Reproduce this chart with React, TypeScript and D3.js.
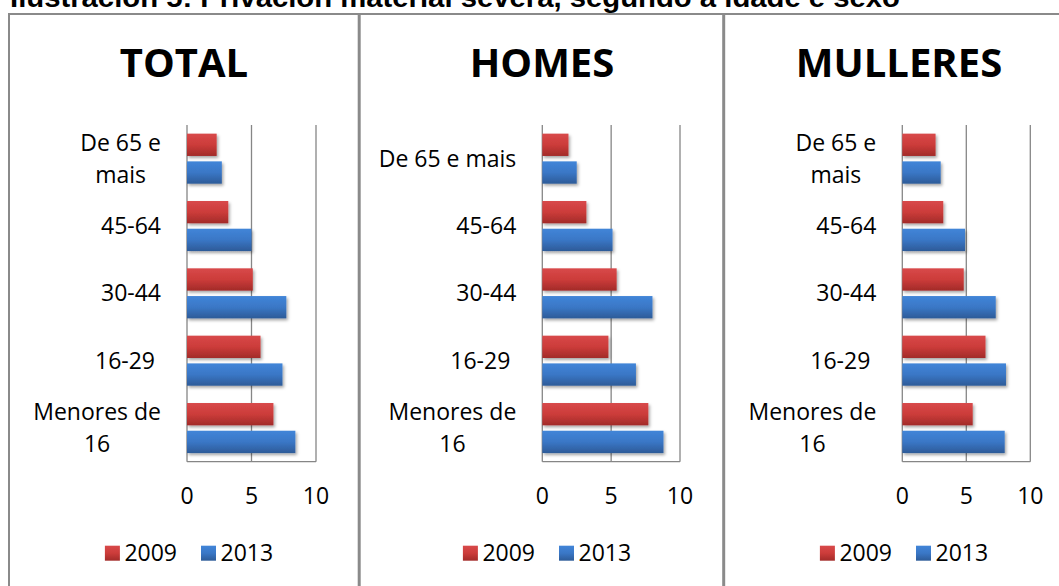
import * as d3 from "d3";
import { useEffect, useRef } from "react";

const chartTitle = "Ilustración 5: Privación material severa, segundo a idade e sexo";
const panelTitles = ["TOTAL", "HOMES", "MULLERES"];
const categories = ["De 65 e mais", "45-64", "30-44", "16-29 ", "Menores de 16"];
const seriesNames = ["2009", "2013"];
const xTicks = [0, 5, 10];

const total2009 = [2.3, 3.2, 5.1, 5.7, 6.7];
const total2013 = [2.7, 5.0, 7.7, 7.4, 8.4];
const homes2009 = [1.9, 3.2, 5.4, 4.8, 7.7];
const homes2013 = [2.5, 5.1, 8.0, 6.8, 8.8];
const mulleres2009 = [2.6, 3.2, 4.8, 6.5, 5.5];
const mulleres2013 = [3.0, 4.9, 7.3, 8.1, 8.0];

const width = 1059;
const height = 586;
const FONT = "'Open Sans', sans-serif";
const GRID = "#868686";

// layout of the three boxes (pixels)
const layout = [
  { left: 9, right: 359, x0: 187, x10: 316, wrap: 132 },
  { left: 361, right: 723, x0: 542.3, x10: 680, wrap: 150 },
  { left: 724, right: 1074, x0: 902.3, x10: 1030.3, wrap: 132 },
];
const plotTop = 125;
const plotBottom = 461.7;

function drawChart(container: HTMLElement) {
  const svg = d3.select(container)
    .append("svg")
    .attr("width", width)
    .attr("height", height)
    .attr("viewBox", [0, 0, width, height].join(" "))
    .style("display", "block")
    .style("font-family", FONT);

  const defs = svg.append("defs");
  const grad = (id: string, stops: string[]) => {
    const g = defs.append("linearGradient").attr("id", id)
      .attr("x1", 0).attr("y1", 0).attr("x2", 0).attr("y2", 1);
    stops.forEach((c, i) => g.append("stop")
      .attr("offset", `${(i / (stops.length - 1)) * 100}%`).attr("stop-color", c));
  };
  grad("g2009", ["#d8494a", "#cc3c3a", "#a22b29"]);
  grad("g2013", ["#4185d8", "#3a77c6", "#2d5b98"]);
  const f = defs.append("filter").attr("id", "shadow")
    .attr("x", "-10%").attr("y", "-20%").attr("width", "130%").attr("height", "160%");
  f.append("feDropShadow").attr("dx", 1.5).attr("dy", 2).attr("stdDeviation", 1.5)
    .attr("flood-color", "#000").attr("flood-opacity", 0.35);

  svg.append("rect").attr("width", width).attr("height", height).attr("fill", "#fff");

  // main title (clipped at top in the source)
  svg.append("text")
    .attr("x", 10).attr("y", 7)
    .attr("font-family", "'Liberation Sans', Arial, sans-serif")
    .attr("font-weight", "bold").attr("font-size", 28)
    .attr("textLength", 890).attr("lengthAdjust", "spacingAndGlyphs")
    .text(chartTitle);

  // frames
  svg.append("line").attr("x1", 8).attr("x2", width).attr("y1", 14).attr("y2", 14)
    .attr("stroke", "#8a8a8a").attr("stroke-width", 2);
  [[9, 2], [359.2, 3], [723.7, 3]].forEach(([x, w]) => {
    svg.append("line").attr("x1", x).attr("x2", x).attr("y1", 13).attr("y2", height)
      .attr("stroke", "#8a8a8a").attr("stroke-width", w);
  });

  const measurer = svg.append("text").attr("font-size", 23).style("white-space", "pre");
  const measure = (s: string, size = 23) => {
    measurer.attr("font-size", size).text(s);
    return (measurer.node() as SVGTextElement).getComputedTextLength();
  };

  const wrapLines = (label: string, maxW: number) => {
    if (measure(label) <= maxW) return [label];
    const words = label.trim().split(" ");
    const lines: string[] = [];
    let cur = "";
    words.forEach(w => {
      const next = cur ? cur + " " + w : w;
      if (cur && measure(next) > maxW) {
        lines.push(cur);
        cur = w;
      } else cur = next;
    });
    if (cur) lines.push(cur);
    return lines;
  };

  const panels = [
    { title: panelTitles[0], v2009: total2009, v2013: total2013 },
    { title: panelTitles[1], v2009: homes2009, v2013: homes2013 },
    { title: panelTitles[2], v2009: mulleres2009, v2013: mulleres2013 },
  ];

  panels.forEach((p, pi) => {
    const L = layout[pi];
    const g = svg.append("g");
    const cx = (L.left + L.right) / 2;

    g.append("text")
      .attr("x", cx).attr("y", 77)
      .attr("text-anchor", "middle")
      .attr("font-weight", "bold").attr("font-size", 40)
      .text(p.title);

    const x = d3.scaleLinear([0, 10], [L.x0, L.x10]);
    const y = d3.scaleBand(categories, [plotTop, plotBottom])
      .paddingInner(0.257).paddingOuter(0.1285);
    const ySub = d3.scaleBand(seriesNames, [0, y.bandwidth()]).paddingInner(0.195);

    // gridlines + axis
    g.selectAll("line.grid")
      .data(xTicks)
      .join("line")
      .attr("class", "grid")
      .attr("x1", d => x(d)).attr("x2", d => x(d))
      .attr("y1", plotTop).attr("y2", plotBottom)
      .attr("stroke", GRID).attr("stroke-width", 1.3);
    g.append("line")
      .attr("x1", x(0)).attr("x2", x(10))
      .attr("y1", plotBottom).attr("y2", plotBottom)
      .attr("stroke", GRID).attr("stroke-width", 1.3);

    g.selectAll("text.tick")
      .data(xTicks)
      .join("text")
      .attr("class", "tick")
      .attr("x", d => x(d)).attr("y", plotBottom + 42.5)
      .attr("text-anchor", "middle").attr("font-size", 23)
      .text(d => d);

    // bars
    const rows = categories.flatMap((c, i) => [
      { c, s: seriesNames[0], v: p.v2009[i] },
      { c, s: seriesNames[1], v: p.v2013[i] },
    ]);
    g.append("g")
      .attr("filter", "url(#shadow)")
      .selectAll("rect")
      .data(rows)
      .join("rect")
      .attr("x", x(0))
      .attr("y", d => y(d.c)! + ySub(d.s)!)
      .attr("width", d => x(d.v) - x(0))
      .attr("height", ySub.bandwidth())
      .attr("fill", d => `url(#g${d.s})`);

    // category labels
    const labelRight = x(0) - 26;
    categories.forEach(c => {
      const lines = wrapLines(c, L.wrap);
      const maxW = d3.max(lines, l => measure(l))!;
      const cy = y(c)! + y.bandwidth() / 2;
      const t = g.append("text")
        .attr("text-anchor", "middle")
        .attr("font-size", 23)
        .style("white-space", "pre");
      lines.forEach((l, li) => {
        t.append("tspan")
          .attr("x", labelRight - maxW / 2)
          .attr("y", cy + 8 + (li - (lines.length - 1) / 2) * 32)
          .text(l);
      });
    });

    // legend
    const sq = 15, gapText = 4.5, gapItem = 24;
    const widths = seriesNames.map(s => measure(s));
    const total = d3.sum(widths) + seriesNames.length * (sq + gapText) + gapItem * (seriesNames.length - 1);
    let lx = cx + 5 - total / 2;
    const ly = 560.7;
    seriesNames.forEach((s, si) => {
      g.append("rect")
        .attr("x", lx).attr("y", ly - sq)
        .attr("width", sq).attr("height", sq)
        .attr("fill", `url(#g${s})`);
      g.append("text")
        .attr("x", lx + sq + gapText).attr("y", ly)
        .attr("font-size", 23)
        .text(s);
      lx += sq + gapText + widths[si] + gapItem;
    });
  });

  measurer.remove();
}

export default function App() {
  const domRef = useRef<HTMLDivElement>(null);
  useEffect(() => {
    if (domRef.current) drawChart(domRef.current);
    return () => {
      if (domRef.current) d3.select(domRef.current).selectAll("svg").remove();
    };
  }, []);
  return <div ref={domRef} style={{ position: "absolute", left: 0, top: 0 }}></div>;
}
